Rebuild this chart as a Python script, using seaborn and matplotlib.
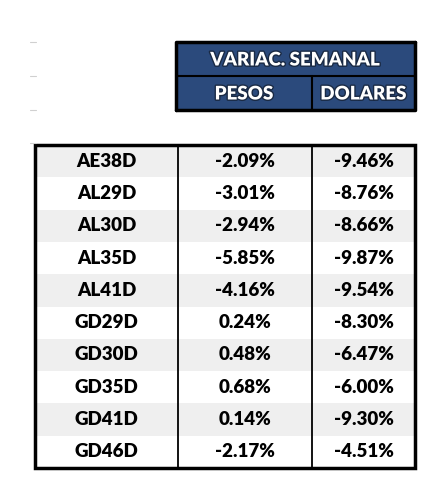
import matplotlib
matplotlib.use("Agg")
import matplotlib.pyplot as plt
import matplotlib.patheffects as pe
from matplotlib.patches import Rectangle
import seaborn as sns

tickers = ["AE38D", "AL29D", "AL30D", "AL35D", "AL41D",
           "GD29D", "GD30D", "GD35D", "GD41D", "GD46D"]
pesos = [-2.09, -3.01, -2.94, -5.85, -4.16, 0.24, 0.48, 0.68, 0.14, -2.17]
dolares = [-9.46, -8.76, -8.66, -9.87, -9.54, -8.30, -6.47, -6.00, -9.30, -4.51]
header_top = "VARIAC. SEMANAL"
header_cols = ["PESOS", "DOLARES"]

sns.set_theme(style="white")
plt.rcParams['font.family'] = ['Lato', 'DejaVu Sans']

fig = plt.figure(figsize=(4.4, 4.91), dpi=100)
ax = fig.add_axes([0, 0, 1, 1])
ax.set_xlim(0, 440)
ax.set_ylim(491, 0)
ax.axis("off")

navy = "#2b4a7c"
# faint spreadsheet grid marks
for y in [42, 76, 110, 143]:
    ax.plot([30, 36], [y, y], color="#d0d0d0", lw=0.8)

# header block
x0, x1, x2 = 176, 312, 415
ax.add_patch(Rectangle((x0, 42), x2 - x0, 68, facecolor=navy, edgecolor="none"))
ax.plot([x0, x0, x2], [110, 42, 42], color="black", lw=2.5)
ax.plot([x2, x2, x0], [42, 110, 110], color="black", lw=2.5)
ax.plot([x0, x2], [76, 76], color="black", lw=1.5)
ax.plot([x1, x1], [76, 110], color="black", lw=1.5)
shadow = [pe.withStroke(linewidth=2, foreground="#1a2a44")]
ax.text((x0 + x2) / 2, 60, header_top, ha="center", va="center", color="white",
        fontsize=13.5, fontweight="heavy", path_effects=shadow)
for cx, lab in zip([(x0 + x1) / 2, (x1 + x2) / 2], header_cols):
    ax.text(cx, 94, lab, ha="center", va="center", color="white",
            fontsize=13.5, fontweight="heavy", path_effects=shadow)

# body table
left, top, bottom = 35, 145, 468
row_h = (bottom - top) / len(tickers)
cols = [left, 178, x1, x2]
for i, (t, p, d) in enumerate(zip(tickers, pesos, dolares)):
    y = top + i * row_h
    if i % 2 == 0:
        ax.add_patch(Rectangle((left, y), x2 - left, row_h, facecolor="#efefef", edgecolor="none"))
    yc = y + row_h / 2
    for j, s in enumerate([t, f"{p:.2f}%", f"{d:.2f}%"]):
        ax.text((cols[j] + cols[j + 1]) / 2, yc, s, ha="center", va="center",
                fontsize=13.5, fontweight="heavy", color="black")
ax.add_patch(Rectangle((left, top), x2 - left, bottom - top, facecolor="none",
                       edgecolor="black", lw=2.5))
for cx in cols[1:3]:
    ax.plot([cx, cx], [top, bottom], color="black", lw=1.3)

fig.savefig("out.png", dpi=100)
